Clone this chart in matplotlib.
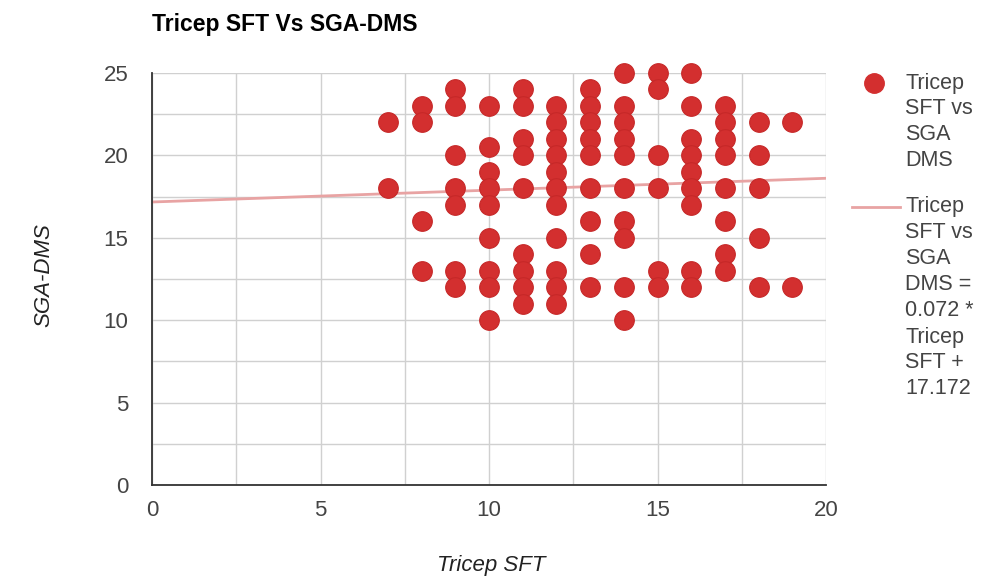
import matplotlib
matplotlib.use("Agg")
import matplotlib.pyplot as plt
from matplotlib.lines import Line2D
import numpy as np

plt.rcParams['font.family'] = ['Liberation Sans', 'DejaVu Sans']

# data: x value -> list of y values
tricep_sft = [7, 7,
              8, 8, 8, 8,
              9, 9, 9, 9, 9, 9, 9,
              10, 10, 10, 10, 10, 10, 10, 10, 10,
              11, 11, 11, 11, 11, 11, 11, 11, 11,
              12, 12, 12, 12, 12, 12, 12, 12, 12, 12, 12,
              13, 13, 13, 13, 13, 13, 13, 13, 13,
              14, 14, 14, 14, 14, 14, 14, 14, 14, 14,
              15, 15, 15, 15, 15, 15,
              16, 16, 16, 16, 16, 16, 16, 16, 16,
              17, 17, 17, 17, 17, 17, 17, 17,
              18, 18, 18, 18, 18,
              19, 19]
sga_dms = [22, 18,
           23, 22, 16, 13,
           24, 23, 20, 18, 17, 13, 12,
           23, 20.5, 19, 18, 17, 15, 13, 12, 10,
           24, 23, 21, 20, 18, 14, 13, 12, 11,
           23, 22, 21, 20, 19, 18, 17, 15, 13, 12, 11,
           24, 23, 22, 21, 20, 18, 16, 14, 12,
           25, 23, 22, 21, 20, 18, 16, 15, 12, 10,
           25, 24, 20, 18, 13, 12,
           25, 23, 21, 20, 19, 18, 17, 13, 12,
           23, 22, 21, 20, 18, 16, 14, 13,
           22, 20, 18, 15, 12,
           22, 12]
trend_slope = 0.072
trend_intercept = 17.172
x_ticks = [0, 5, 10, 15, 20]
y_ticks = [0, 5, 10, 15, 20, 25]

W, H = 986, 579
fig = plt.figure(figsize=(W / 100, H / 100), dpi=100)
ax = fig.add_axes([152 / W, 1 - 485 / H, (826 - 152) / W, (485 - 73) / H])

ax.set_xlim(0, 20)
ax.set_ylim(0, 25)
ax.set_xticks(x_ticks)
ax.set_yticks(y_ticks)
ax.set_xticks(np.arange(0, 20.1, 2.5), minor=True)
ax.set_yticks(np.arange(0, 25.1, 2.5), minor=True)
ax.grid(True, which='both', color='#d0d0d0', linewidth=1.0)
ax.tick_params(which='both', length=0)
ax.tick_params(axis='both', labelsize=16, colors='#444444')
ax.tick_params(axis='y', pad=17)
ax.tick_params(axis='x', pad=11)
for s in ['top', 'right']:
    ax.spines[s].set_visible(False)
ax.spines['left'].set_color('#333333')
ax.spines['bottom'].set_color('#333333')
ax.spines['left'].set_linewidth(1.3)
ax.spines['bottom'].set_linewidth(1.3)
ax.set_axisbelow(True)

dot_color = '#d32f2f'
line_color = '#e8a3a3'
tx = np.array([0, 20])
ax.plot(tx, trend_slope * tx + trend_intercept, color=line_color, linewidth=2, zorder=2)
ax.scatter(tricep_sft, sga_dms, s=200, color=dot_color, edgecolors='#c62828', linewidths=0.8, zorder=3, clip_on=False)

fig.text(491 / W, 1 - 566 / H, 'Tricep SFT', fontsize=16, style='italic', color='#222222',
         ha='center', va='center')
fig.text(44 / W, 1 - 275 / H, 'SGA-DMS', fontsize=16, style='italic', color='#222222',
         ha='center', va='center', rotation=90)

fig.text(152 / W, 1 - 25 / H, 'Tricep SFT Vs SGA-DMS', fontsize=16.5, fontweight='bold',
         color='#000000', va='center', ha='left')

# legend
leg1 = ['Tricep', 'SFT vs', 'SGA', 'DMS']
leg2 = ['Tricep', 'SFT vs', 'SGA', 'DMS =', '0.072 *', 'Tricep', 'SFT +', '17.172']
fig.add_artist(Line2D([874 / W], [1 - 83 / H], marker='o', markersize=14, color=dot_color,
                      transform=fig.transFigure))
for i, t in enumerate(leg1):
    fig.text(905 / W, 1 - (83 + 26 * i) / H, t, fontsize=15.5, color='#444444', va='center', ha='left')
fig.add_artist(Line2D([852 / W, 900 / W], [1 - 207 / H, 1 - 207 / H], color=line_color, linewidth=2,
                      transform=fig.transFigure))
for i, t in enumerate(leg2):
    fig.text(905 / W, 1 - (207 + 26 * i) / H, t, fontsize=15.5, color='#444444', va='center', ha='left')

fig.savefig('out.png', dpi=100)
